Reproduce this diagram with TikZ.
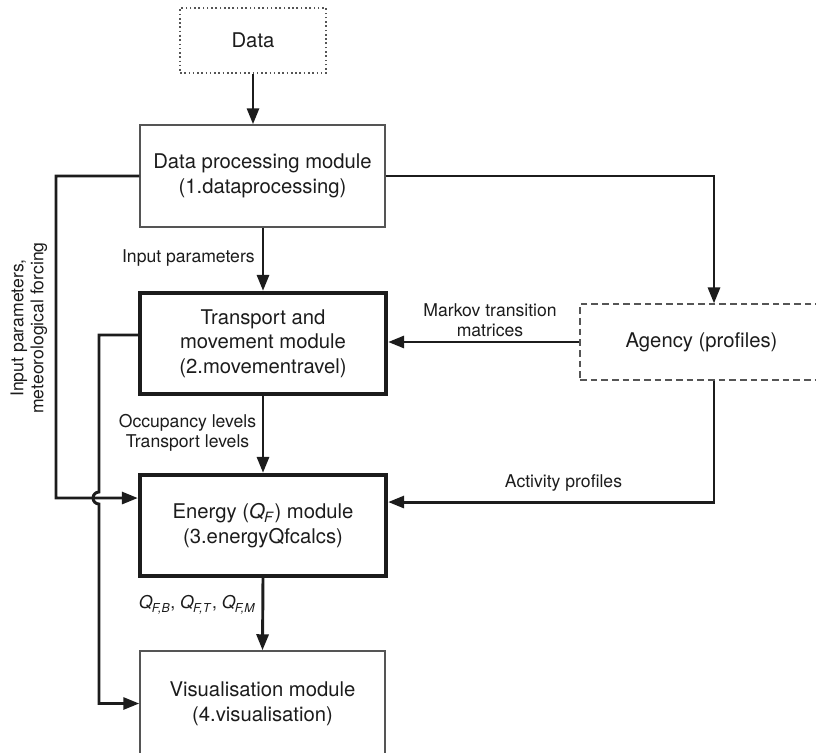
\documentclass[tikz,border=0pt]{standalone}
\usepackage{fontspec}
\setmainfont{TeX Gyre Heros}
\usetikzlibrary{arrows.meta,calc}
\definecolor{ink}{HTML}{1C1C1C}
\definecolor{rim}{HTML}{555555}
\tikzset{>={Triangle[length=12pt,width=9pt]}}
\tikzset{
  module/.style={draw=rim,line width=1.1pt,align=center,inner sep=0pt,
    font=\fontsize{15.2}{18.5}\selectfont,text=ink},
  mainmodule/.style={module,draw=ink,line width=3.2pt},
  flow/.style={->,draw=ink,line width=2.2pt},
  flowlabel/.style={align=center,inner sep=0pt,text=ink,
    font=\fontsize{13.2}{15}\selectfont}
}
\newcommand{\qf}[1]{\textit{Q}\textsubscript{\kern-.5pt\textit{#1}}}

\begin{document}
\begin{tikzpicture}[x=0.75pt,y=-0.75pt]
  \useasboundingbox (0,0) rectangle (816,752);
  % Modules
  \node[module,line width=0.9pt,dash pattern=on 1.2pt off 2pt,
    minimum width=109.5pt,minimum height=48.75pt] (data) at (253,40.5) {Data};
  \node[module,minimum width=183.75pt,minimum height=76.5pt] (proc) at (262.5,176)
    {Data processing module\\(1.dataprocessing)};
  \node[mainmodule,minimum width=184.5pt,minimum height=75.75pt] (trans) at (263,343.5)
    {Transport and\\movement module\\(2.movementravel)};
  \node[module,line width=0.9pt,dash pattern=on 5pt off 3pt,
    minimum width=182.25pt,minimum height=57pt] (agency) at (701.5,342) {Agency (profiles)};
  \node[mainmodule,minimum width=184.5pt,minimum height=75.75pt] (energy) at (263,525.5)
    {Energy (\qf{F}) module\\(3.energyQfcalcs)};
  \node[module,minimum width=183.75pt,minimum height=78.75pt] (vis) at (262.5,703.5)
    {Visualisation module\\(4.visualisation)};

  % Lines
  \draw[flow] (data) -- (data.south |- proc.north);
  \draw[flow] (proc.south -| trans.north) -- (trans.north);
  \draw[flow] (proc.west) -| (56,498) -- ([yshift=20.6pt]energy.west);
  \draw[flow] (proc.east) -| (agency.north -| 714,0);
  \draw[flow] (agency.west) -- (trans.east |- agency.west);
  \draw[flow] ([yshift=6.4pt]trans.west) -| (99,492)
    arc[start angle=90,end angle=270,radius=4.5pt] |- (vis.west);
  \draw[flow] (trans.south) -- (energy.north);
  \draw[flow] (agency.south -| 714,0) |- ([yshift=17.6pt]energy.east);
  \draw[flow] (energy.south) -- (vis.north);

  % Labels
  \node[flowlabel,anchor=east] (lblin) at (255,258) {Input parameters};
  \node[flowlabel] (lblmet) at (29,328) [rotate=90] {Input parameters,\\meteorological forcing};
  \node[flowlabel] (lblmarkov) at (490,320) {Markov transition\\matrices};
  \node[flowlabel] (lblocc) at (187.5,433) {Occupancy levels\\Transport levels};
  \node[flowlabel] (lblact) at (563.5,483) {Activity profiles};
  \node[flowlabel,anchor=east] (lblq) at (256,605) {\qf{F,B}, \qf{F,T}, \qf{F,M}};
\end{tikzpicture}
\end{document}
